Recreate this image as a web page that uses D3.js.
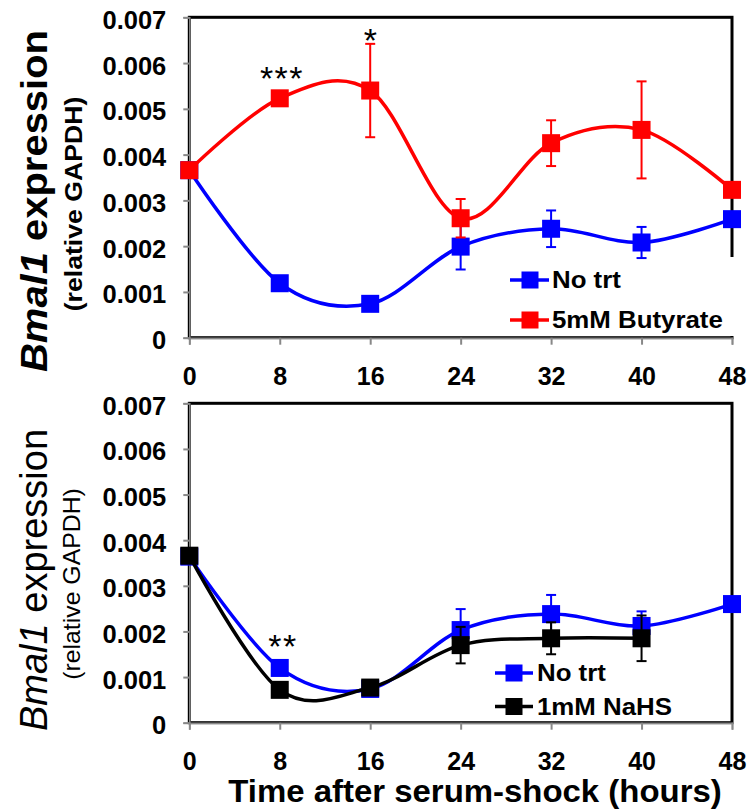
<!DOCTYPE html>
<html>
<head>
<meta charset="utf-8">
<script src="https://cdn.jsdelivr.net/npm/d3@7"></script>
<style>
  body { margin: 0; background: #fff; }
  svg { display: block; font-family: "Liberation Sans", Arial, sans-serif; }
</style>
</head>
<body>
<svg id="chart"></svg>
<script>
const width = 756;
const height = 809;

// time points (hours after serum shock)
const hours = [0, 8, 16, 24, 32, 40, 48];
const yTicks = [0, 0.001, 0.002, 0.003, 0.004, 0.005, 0.006, 0.007];

// top panel
const noTrtTop = [0.00366, 0.00119, 0.00074, 0.00199, 0.00238, 0.00208, 0.00259];
const noTrtTopErr = [0, 0, 0, 0.0005, 0.0004, 0.00034, 0];
const butyrate = [0.00366, 0.00523, 0.00540, 0.00261, 0.00425, 0.00454, 0.00323];
const butyrateErr = [0, 0, 0.00102, 0.00042, 0.0005, 0.00106, 0];

// bottom panel
const noTrtBottom = [0.00364, 0.0012, 0.00074, 0.00203, 0.00238, 0.00212, 0.0026];
const noTrtBottomErr = [0, 0, 0, 0.00046, 0.00042, 0.00032, 0];
const nahs = [0.00366, 0.00072, 0.00077, 0.0017, 0.00185, 0.00185];
const nahsErr = [0, 0, 0, 0.0004, 0.00035, 0.0005];

const svg = d3.select("#chart")
  .attr("width", width)
  .attr("height", height);

const x = d3.scaleLinear().domain([0, 48]).range([189.3, 732]);

// stretched text helper
function label(g, px, py, opts) {
  const t = g.append("text")
    .attr("transform", `translate(${px},${py}) rotate(${opts.rot || 0}) scale(${opts.sx || 1},1)`)
    .attr("text-anchor", opts.anchor || "start")
    .style("font-size", opts.size + "px")
    .style("font-weight", opts.weight || "bold")
    .attr("fill", "#000");
  if (opts.parts) {
    opts.parts.forEach(p => t.append("tspan").style("font-style", p.italic ? "italic" : "normal").text(p.text));
  } else {
    t.text(opts.text);
  }
  return t;
}

function panel(top, bottom, series, legendBox, legendPos, stars) {
  const y = d3.scaleLinear().domain([0, 0.007]).range([bottom, top]);
  const g = svg.append("g");

  // plot area border
  g.append("rect")
    .attr("x", x(0)).attr("y", y(0.007))
    .attr("width", x(48) - x(0)).attr("height", y(0) - y(0.007))
    .attr("fill", "none").attr("stroke", "#000").attr("stroke-width", 3);

  // legend background
  g.append("rect")
    .attr("x", legendBox[0]).attr("y", legendBox[1])
    .attr("width", legendBox[2]).attr("height", legendBox[3])
    .attr("fill", "#fff");

  // axes
  const yAxis = g.append("g")
    .attr("transform", `translate(${x(0)},0)`)
    .call(d3.axisLeft(y).tickValues(yTicks).tickSize(6).tickPadding(17)
      .tickFormat(d => d === 0 ? "0" : d3.format(".3f")(d)));
  const xAxis = g.append("g")
    .attr("transform", `translate(0,${y(0)})`)
    .call(d3.axisBottom(x).tickValues(hours).tickSize(7).tickPadding(23));
  [yAxis, xAxis].forEach(a => {
    a.select(".domain").attr("stroke", "#888").attr("stroke-width", 1.5);
    a.selectAll(".tick line").attr("stroke", "#888").attr("stroke-width", 2);
    a.selectAll(".tick text")
      .attr("fill", "#000")
      .style("font-size", "25.5px")
      .style("font-weight", "bold")
      .style("font-family", "'Liberation Sans', Arial, sans-serif");
  });
  xAxis.selectAll(".tick text").style("font-size", "25px");
  yAxis.selectAll(".tick text").attr("dy", "0.43em");

  const line = d3.line()
    .x((d, i) => x(hours[i]))
    .y(d => y(d))
    .curve(d3.curveCardinal.tension(0));

  series.forEach(s => {
    g.append("path")
      .attr("d", line(s.values))
      .attr("fill", "none")
      .attr("stroke", s.color)
      .attr("stroke-width", 3.5);

    s.values.forEach((v, i) => {
      const e = s.err[i];
      if (!e) return;
      const cx = x(hours[i]);
      const eg = g.append("g").attr("stroke", s.color).attr("stroke-width", 2);
      eg.append("line").attr("x1", cx).attr("x2", cx).attr("y1", y(v - e)).attr("y2", y(v + e));
      eg.append("line").attr("x1", cx - 5).attr("x2", cx + 5).attr("y1", y(v - e)).attr("y2", y(v - e));
      eg.append("line").attr("x1", cx - 5).attr("x2", cx + 5).attr("y1", y(v + e)).attr("y2", y(v + e));
    });

    g.selectAll(null)
      .data(s.values)
      .enter()
      .append("rect")
      .attr("x", (d, i) => x(hours[i]) - 9)
      .attr("y", d => y(d) - 9)
      .attr("width", 18)
      .attr("height", 18)
      .attr("fill", s.color);
  });

  // legend
  series.forEach((s, i) => {
    const ly = legendPos.y[i];
    g.append("line")
      .attr("x1", legendPos.x1).attr("x2", legendPos.x2)
      .attr("y1", ly).attr("y2", ly)
      .attr("stroke", s.color).attr("stroke-width", 3.5);
    g.append("rect")
      .attr("x", legendPos.sq - 8.5).attr("y", ly - 8.5)
      .attr("width", 17).attr("height", 17)
      .attr("fill", s.color);
    label(g, legendPos.tx, ly + 8.3, { text: s.name, size: 23.5, sx: 1.1 });
  });

  // significance marks
  stars.forEach(st => {
    g.append("text")
      .attr("x", st.x).attr("y", st.y)
      .attr("text-anchor", "middle")
      .style("font-size", "34px")
      .style("letter-spacing", "1.5px")
      .text(st.text);
  });
  return g;
}

panel(17.3, 337.7,
  [
    { name: "No trt", color: "#0000ff", values: noTrtTop, err: noTrtTopErr },
    { name: "5mM Butyrate", color: "#ff0000", values: butyrate, err: butyrateErr }
  ],
  [503, 257, 232, 79],
  { x1: 510, x2: 549, sq: 530, tx: 552, y: [280, 320] },
  [{ x: 282, y: 90, text: "***" }, { x: 371, y: 52, text: "*" }]
);

panel(403.3, 722.7,
  [
    { name: "No trt", color: "#0000ff", values: noTrtBottom, err: noTrtBottomErr },
    { name: "1mM NaHS", color: "#000000", values: nahs, err: nahsErr }
  ],
  [490, 655, 238, 66],
  { x1: 495, x2: 533, sq: 514, tx: 537, y: [673, 706.5] },
  [{ x: 283, y: 658, text: "**" }]
);

// axis titles
label(svg, 47, 201, {
  rot: -90, anchor: "middle", size: 37, sx: 1.08,
  parts: [{ text: "Bmal1", italic: true }, { text: " expression" }]
});
label(svg, 82, 204, { rot: -90, anchor: "middle", size: 24, sx: 1.11, text: "(relative GAPDH)" });

label(svg, 47, 580, {
  rot: -90, anchor: "middle", size: 38, sx: 1.0, weight: "normal",
  parts: [{ text: "Bmal1", italic: true }, { text: " expression" }]
});
label(svg, 80, 584, { rot: -90, anchor: "middle", size: 23, sx: 1.08, weight: "normal", text: "(relative GAPDH)" });

label(svg, 475, 801.5, { anchor: "middle", size: 30.5, sx: 1.08, text: "Time after serum-shock (hours)" });
</script>
</body>
</html>
